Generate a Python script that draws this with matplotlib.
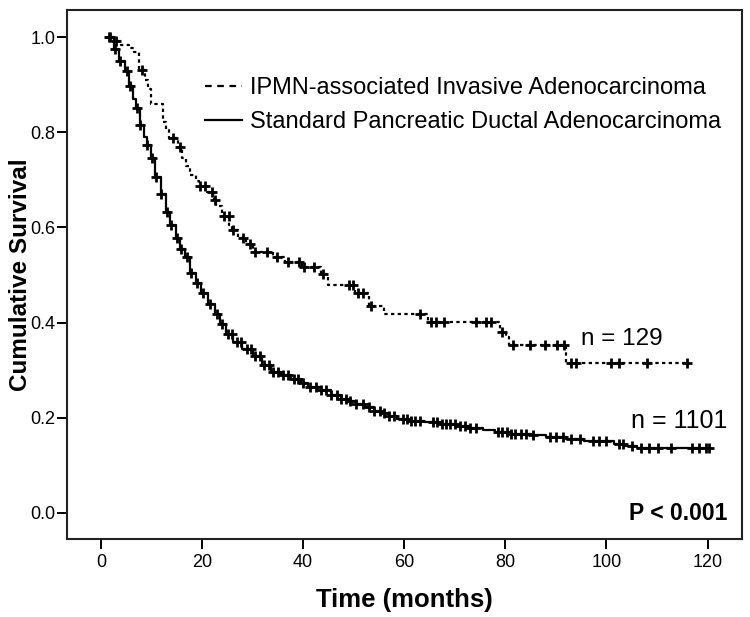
import numpy as np
import matplotlib
matplotlib.use("Agg")
import matplotlib.pyplot as plt
from matplotlib.lines import Line2D

plt.rcParams["font.family"] = ["Liberation Sans", "DejaVu Sans"]

# Standard PDAC (n = 1101): step times and survival after each step
pdac_t = [1.5, 2.5, 3.5, 4.8, 5.6, 6.4, 7.0, 7.8, 8.5, 9.1, 9.9, 10.8, 11.8, 12.8,
          13.6, 14.8, 15.6, 16.6, 17.6, 18.8, 19.9, 21.2, 22.6, 23.6, 24.8, 26.2,
          28.0, 30.0, 31.8, 33.6, 35.6, 37.6, 39.5, 41.0, 43.5, 45.5, 47.5, 49.0,
          50.5, 52.0, 54.0, 55.5, 57.0, 58.5, 61.0, 64.0, 67.0, 70.5, 73.0, 75.5,
          78.0, 81.0, 85.0, 88.0, 92.0, 95.5, 99.0, 101.5, 103.5, 106.0, 120.3]
pdac_s = [1.0, 0.975, 0.95, 0.928, 0.897, 0.87, 0.85, 0.816, 0.79, 0.774, 0.745,
          0.707, 0.67, 0.632, 0.605, 0.578, 0.555, 0.537, 0.505, 0.483, 0.462,
          0.44, 0.418, 0.397, 0.375, 0.36, 0.345, 0.33, 0.31, 0.297, 0.289, 0.282,
          0.272, 0.264, 0.258, 0.248, 0.24, 0.236, 0.228, 0.222, 0.215, 0.21,
          0.203, 0.197, 0.192, 0.19, 0.187, 0.183, 0.178, 0.174, 0.169, 0.166,
          0.164, 0.16, 0.156, 0.152, 0.15, 0.145, 0.14, 0.137, 0.137]
pdac_cens = [1.6, 2.8, 3.8, 5.1, 5.8, 7.1, 7.8, 9.1, 10.1, 10.9, 11.9, 13.0, 13.8,
             15.0, 15.8, 17.0, 17.8, 19.0, 20.2, 21.5, 22.9, 23.9, 25.2, 26.0,
             26.9, 27.8, 28.9, 29.7, 30.5, 31.5, 32.2, 33.2, 34.1, 35.0, 36.1,
             37.0, 38.1, 39.0, 40.0, 41.4, 42.5, 43.5, 44.5, 45.5, 46.7, 47.5,
             48.5, 49.3, 50.5, 51.9, 53.0, 54.0, 55.3, 56.0, 57.0, 58.0, 59.7,
             60.5, 61.3, 62.2, 63.1, 65.7, 66.5, 67.4, 68.2, 69.1, 70.0, 71.0,
             72.0, 73.0, 74.2, 78.5, 79.4, 80.3, 81.2, 82.0, 83.0, 84.0, 85.4,
             88.8, 90.0, 91.4, 93.0, 94.8, 97.3, 98.6, 99.9, 102.5, 103.3, 105.0,
             106.8, 108.5, 110.2, 112.8, 117.0, 118.3, 119.6, 120.3]

# IPMN-associated invasive adenocarcinoma (n = 129)
ipmn_t = [1.5, 2.5, 4.0, 5.5, 6.5, 7.5, 8.8, 9.4, 10.0, 12.2, 12.8, 13.5, 15.2,
          16.0, 16.8, 17.6, 18.8, 19.5, 21.0, 22.4, 22.8, 24.0, 25.4, 26.0, 27.2,
          28.8, 30.0, 34.0, 36.5, 39.8, 43.5, 45.0, 50.2, 53.0, 56.0, 64.7, 78.9,
          80.2, 80.8, 92.0, 116.0]
ipmn_s = [1.0, 0.992, 0.984, 0.977, 0.969, 0.93, 0.91, 0.89, 0.86, 0.822, 0.805,
          0.787, 0.77, 0.745, 0.73, 0.71, 0.698, 0.688, 0.675, 0.658, 0.645,
          0.625, 0.605, 0.595, 0.578, 0.565, 0.548, 0.538, 0.527, 0.517, 0.503,
          0.478, 0.463, 0.435, 0.419, 0.402, 0.381, 0.37, 0.352, 0.314, 0.314]
ipmn_cens = [1.8, 3.0, 8.1, 14.3, 15.7, 19.6, 20.6, 22.0, 22.6, 24.3, 25.3, 26.2,
             28.2, 29.5, 30.5, 32.8, 34.8, 37.1, 39.1, 40.1, 42.1, 44.0, 49.0,
             49.9, 50.9, 51.9, 53.4, 63.2, 65.2, 66.2, 67.8, 74.1, 76.1, 77.1,
             79.3, 81.5, 84.9, 87.9, 90.2, 91.5, 93.0, 94.0, 100.8, 102.5, 108.0,
             115.9]

group_labels = ["IPMN-associated Invasive Adenocarcinoma",
                "Standard Pancreatic Ductal Adenocarcinoma"]
n_labels = ["n = 129", "n = 1101"]


def surv_at(times, surv, x):
    idx = np.searchsorted(times, x, side="right") - 1
    return np.asarray(surv)[np.clip(idx, 0, len(surv) - 1)]


W, H = 750, 617
fig = plt.figure(figsize=(W / 100, H / 100), dpi=100)
ax = fig.add_axes([67 / W, 1 - 539 / H, (742 - 67) / W, (539 - 10) / H])

ax.step(pdac_t, pdac_s, where="post", color="black", lw=1.6)
ax.plot(pdac_cens, surv_at(pdac_t, pdac_s, pdac_cens), ls="none", marker="+",
        ms=7.5, mew=2.0, color="black")

ax.step(ipmn_t, ipmn_s, where="post", color="black", lw=1.6, ls=(0, (1.5, 1.5)))
ax.plot(ipmn_cens, surv_at(ipmn_t, ipmn_s, ipmn_cens), ls="none", marker="+",
        ms=7.5, mew=2.0, color="black")

ax.set_xlim(-6.7, 126.8)
ax.set_ylim(-0.055, 1.057)
ax.set_xticks(np.arange(0, 121, 20))
ax.set_yticks(np.arange(0, 1.01, 0.2))
ax.set_yticklabels([f"{v:.1f}" for v in np.arange(0, 1.01, 0.2)])
ax.tick_params(direction="out", length=7.2, width=1.4, colors="black")
ax.tick_params(axis="y", pad=1.0)
ax.tick_params(axis="x", pad=3.5)
for lab in ax.get_xticklabels():
    lab.set_fontfamily(["Liberation Sans Narrow", "Liberation Sans", "DejaVu Sans"])
    lab.set_fontsize(13)
for lab in ax.get_yticklabels():
    lab.set_fontsize(13)
for sp in ax.spines.values():
    sp.set_linewidth(1.5)
    sp.set_color("#222222")

ax.set_xlabel("Time (months)", fontsize=18.5, fontweight="bold")
ax.xaxis.set_label_coords(0.5, -(600 - 539) / 529, transform=ax.transAxes)
ax.xaxis.label.set_va("center")
ax.set_ylabel("Cumulative Survival", fontsize=17.5, fontweight="bold")
ax.yaxis.set_label_coords(-(67 - 21) / 675, 0.5)
ax.yaxis.label.set_va("center")

handles = [Line2D([], [], color="black", lw=1.6, ls=(0, (3, 2.5))),
           Line2D([], [], color="black", lw=1.6)]
fig.legend(handles, group_labels, loc="upper left",
           bbox_to_anchor=(205 / W, 1 - 77 / H), frameon=False, fontsize=17,
           handlelength=1.57, handletextpad=0.34, labelspacing=0.5,
           borderpad=0, borderaxespad=0)

fig.text(581 / W, 1 - 339 / H, n_labels[0], fontsize=17.5, va="center", ha="left")
fig.text(727 / W, 1 - 421 / H, n_labels[1], fontsize=18, va="center", ha="right")
fig.text(727 / W, 1 - 514 / H, "P < 0.001", fontsize=16.5, fontweight="bold",
         va="center", ha="right")

fig.savefig("out.png", dpi=100)
